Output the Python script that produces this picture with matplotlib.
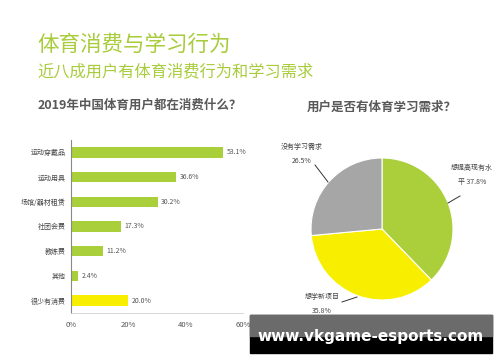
import matplotlib.pyplot as plt
from matplotlib.patches import Rectangle

plt.rcParams['font.family'] = ['Noto Sans CJK SC', 'DejaVu Sans']

# bar chart data
bar_labels = ['运动穿戴品', '运动用具', '场馆/器材租赁', '社团会费', '教练费', '其他', '很少有消费']
bar_values = [53.1, 36.6, 30.2, 17.3, 11.2, 2.4, 20.0]
bar_colors = ['#a9cf3a'] * 6 + ['#f7ee00']
x_ticks = [0, 20, 40, 60]

# pie chart data
pie_labels = ['想提高现有水\n平 37.8%', '想学新项目\n35.8%', '没有学习需求\n26.5%']
pie_values = [37.8, 35.8, 26.5]
pie_colors = ['#abcf3a', '#f7ee00', '#a6a6a6']

W, H = 500, 362
fig = plt.figure(figsize=(5, 3.62), dpi=100)

def fx(px):
    return px / W

def fy(py):
    return 1 - py / H

green = '#a8cc3c'
fig.text(fx(37), fy(45), '体育消费与学习行为', color=green, fontsize=15.5, va='center', ha='left')
fig.text(fx(37), fy(72), '近八成用户有体育消费行为和学习需求', color=green, fontsize=11.7, va='center', ha='left')

# --- bar chart ---
ax = fig.add_axes([fx(71), fy(313), fx(243) - fx(71), fy(140) - fy(313)])
ypos = list(range(len(bar_labels)))
ax.barh(ypos, bar_values, height=0.42, color=bar_colors)
ax.set_ylim(len(bar_labels) - 0.5, -0.5)
ax.set_xlim(0, 60)
ax.set_yticks(ypos)
ax.set_yticklabels(bar_labels, fontsize=5, color='#444444')
ax.set_xticks(x_ticks)
ax.set_xticklabels([f'{t}%' for t in x_ticks], fontsize=5.5, color='#555555')
ax.tick_params(length=0, pad=4)
ax.tick_params(axis='x', pad=6)
for s in ['top', 'right']:
    ax.spines[s].set_visible(False)
ax.spines['left'].set_color('#888888')
ax.spines['left'].set_linewidth(0.8)
ax.spines['bottom'].set_color('#d0d0d0')
ax.spines['bottom'].set_linewidth(0.6)
for y, v in zip(ypos, bar_values):
    ax.text(v + 1.3, y, f'{v:.1f}%', fontsize=5, color='#555555', va='center', ha='left')
fig.text(fx(140), fy(105), '2019年中国体育用户都在消费什么？', fontsize=9, fontweight='bold',
         color='#595959', ha='center', va='center')

# --- pie chart ---
r = 71
cx, cy = 382, 229
pax = fig.add_axes([fx(cx - r), fy(cy + r), fx(2 * r), 2 * r / H])
pax.pie(pie_values, colors=pie_colors, startangle=90, counterclock=False,
        wedgeprops=dict(edgecolor='white', linewidth=0.8))
pax.set_aspect('auto')
pax.set_xlim(-1, 1)
pax.set_ylim(-1, 1)
fig.text(fx(382), fy(107), '用户是否有体育学习需求？', fontsize=9, fontweight='bold',
         color='#595959', ha='center', va='center')

lab_pos = [(472, 175), (322, 304), (302, 154)]
for (lx, ly), lab in zip(lab_pos, pie_labels):
    fig.text(fx(lx), fy(ly), lab, fontsize=5, color='#444444', ha='center', va='center',
             linespacing=2.0, multialignment='center')
leaders = [((460, 448), (196, 203)), ((342, 357), (302, 297)), ((315, 328), (165, 182))]
for xs, ys in leaders:
    fig.add_artist(plt.Line2D([fx(x) for x in xs], [fy(y) for y in ys], color='#333333', lw=0.7))

# watermark banner
fig.add_artist(Rectangle((fx(250), fy(353)), fx(242), (353 - 315) / H, color='black', zorder=5))
fig.add_artist(Rectangle((fx(250), fy(336)), fx(242), (336 - 315) / H, color='#6b6b6b', zorder=5))
fig.text(fx(371), fy(336), 'www.vkgame-esports.com', fontsize=11, fontweight='bold', color='white',
         ha='center', va='center', family='DejaVu Sans', zorder=6)

fig.savefig('out.png', dpi=100)
